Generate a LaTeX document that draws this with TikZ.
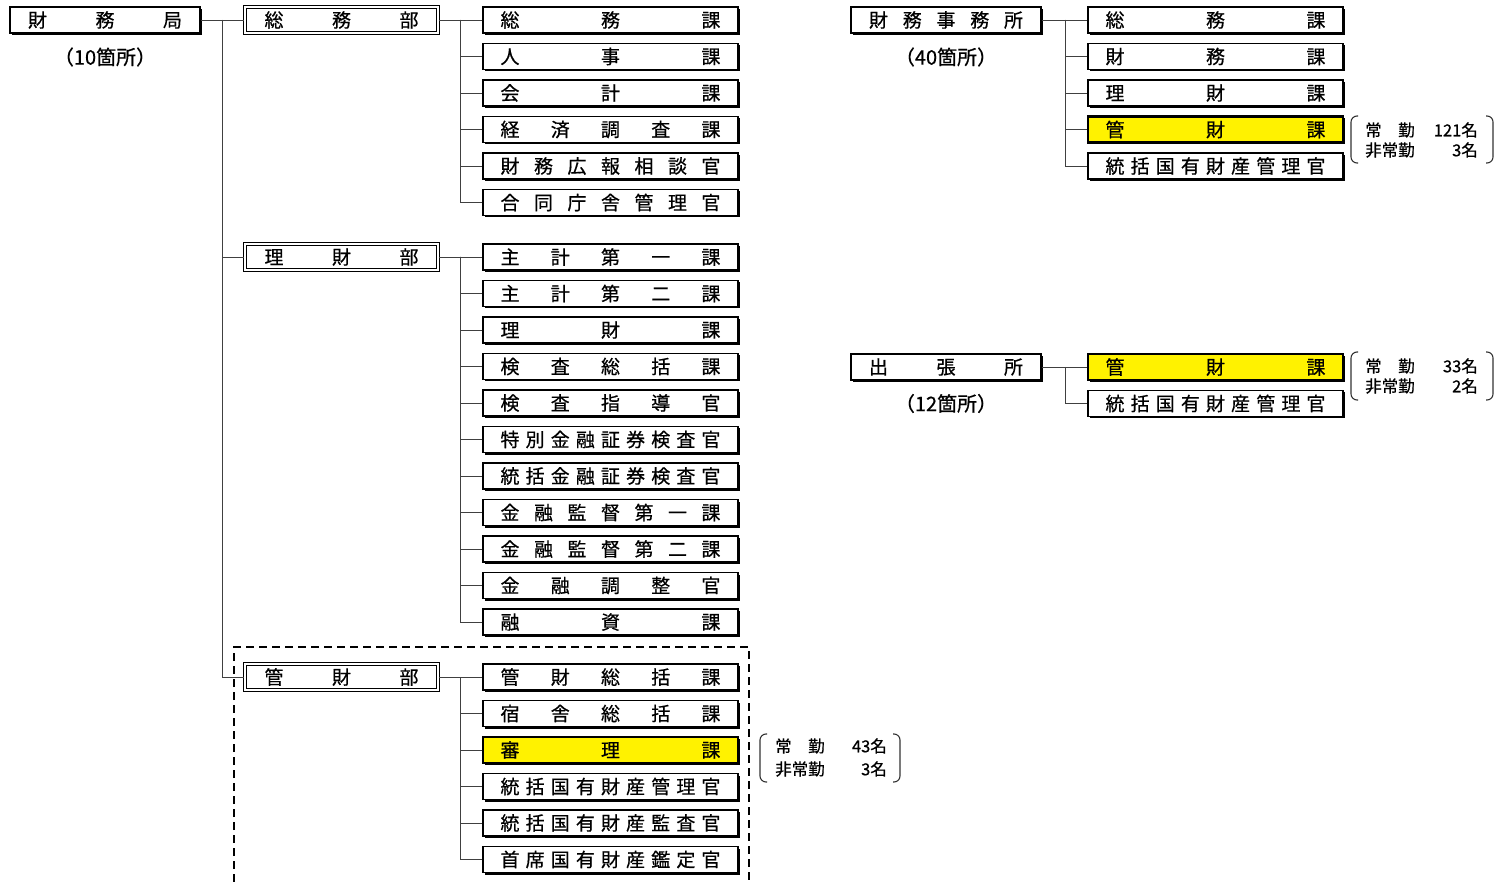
\documentclass[tikz,border=0pt]{standalone}
\usepackage{fontspec}
\setmainfont{Noto Sans CJK JP}[FakeBold=0.6,AutoFakeBold=0.6]
\usetikzlibrary{shadows}
\newcommand\wbox[1]{\makebox[220pt]{#1}}
\newcommand\nbox[1]{\makebox[154pt]{#1}}
\newcommand\twoch[2]{\makebox[3em]{#1\hfill #2}}
\begin{document}
\begin{tikzpicture}[x=1pt,y=-1pt,
  base/.style={draw, fill=white, inner sep=0pt, font=\fontsize{19}{19}\selectfont, minimum height=26pt,
    drop shadow={shadow xshift=2pt, shadow yshift=-2pt, opacity=1, fill=black}},
  kabox/.style={base, line width=1.4pt, minimum width=255pt},
  hlbox/.style={kabox, fill=yellow, line width=2.8pt},
  topbox/.style={base, line width=1.4pt, minimum width=190pt},
  bubox/.style={base, double, line width=1.3pt, double distance=1.4pt, minimum width=193pt},
  conn/.style={line width=0.9pt, black!75},
  note/.style={font=\fontsize{20}{20}\selectfont, inner sep=0pt},
  cnt/.style={font=\fontsize{16.5}{16.5}\selectfont, inner sep=0pt},
  brk/.style={line width=1.1pt, black!80, rounded corners=6pt}
]
\useasboundingbox (0,0) rectangle (1505,882);

% dashed frame
\draw[line width=1.4pt, dash pattern=on 8pt off 5pt] (234,882) -- (234,647) -- (749,647) -- (749,882);

% top-level
\node[topbox] (kyoku) at (105,20) {\nbox{財\hfill 務\hfill 局}};
\node[note] (n10) at (105,57) {（10箇所）};
\node[bubox] (somu) at (341.5,20) {\nbox{総\hfill 務\hfill 部}};
\node[bubox] (rizai) at (341.5,257) {\nbox{理\hfill 財\hfill 部}};
\node[bubox] (kanzai) at (341.5,677) {\nbox{管\hfill 財\hfill 部}};

% 総務部 children
\node[kabox] (s0) at (610.5,20)   {\wbox{総\hfill 務\hfill 課}};
\node[kabox] (s1) at (610.5,56.5) {\wbox{人\hfill 事\hfill 課}};
\node[kabox] (s2) at (610.5,93)   {\wbox{会\hfill 計\hfill 課}};
\node[kabox] (s3) at (610.5,129.5){\wbox{経\hfill 済\hfill 調\hfill 査\hfill 課}};
\node[kabox] (s4) at (610.5,166)  {\wbox{財\hfill 務\hfill 広\hfill 報\hfill 相\hfill 談\hfill 官}};
\node[kabox] (s5) at (610.5,202.5){\wbox{合\hfill 同\hfill 庁\hfill 舎\hfill 管\hfill 理\hfill 官}};

% 理財部 children
\node[kabox] (r0) at (610.5,257)   {\wbox{主\hfill 計\hfill 第\hfill 一\hfill 課}};
\node[kabox] (r1) at (610.5,293.5) {\wbox{主\hfill 計\hfill 第\hfill 二\hfill 課}};
\node[kabox] (r2) at (610.5,330)   {\wbox{理\hfill 財\hfill 課}};
\node[kabox] (r3) at (610.5,366.5) {\wbox{検\hfill 査\hfill 総\hfill 括\hfill 課}};
\node[kabox] (r4) at (610.5,403)   {\wbox{検\hfill 査\hfill 指\hfill 導\hfill 官}};
\node[kabox] (r5) at (610.5,439.5) {\wbox{特\hfill 別\hfill 金\hfill 融\hfill 証\hfill 券\hfill 検\hfill 査\hfill 官}};
\node[kabox] (r6) at (610.5,476)   {\wbox{統\hfill 括\hfill 金\hfill 融\hfill 証\hfill 券\hfill 検\hfill 査\hfill 官}};
\node[kabox] (r7) at (610.5,512.5) {\wbox{金\hfill 融\hfill 監\hfill 督\hfill 第\hfill 一\hfill 課}};
\node[kabox] (r8) at (610.5,549)   {\wbox{金\hfill 融\hfill 監\hfill 督\hfill 第\hfill 二\hfill 課}};
\node[kabox] (r9) at (610.5,585.5) {\wbox{金\hfill 融\hfill 調\hfill 整\hfill 官}};
\node[kabox] (r10) at (610.5,622)  {\wbox{融\hfill 資\hfill 課}};

% 管財部 children
\node[kabox] (k0) at (610.5,677)   {\wbox{管\hfill 財\hfill 総\hfill 括\hfill 課}};
\node[kabox] (k1) at (610.5,713.5) {\wbox{宿\hfill 舎\hfill 総\hfill 括\hfill 課}};
\node[hlbox] (k2) at (610.5,750)   {\wbox{審\hfill 理\hfill 課}};
\node[kabox] (k3) at (610.5,786.5) {\wbox{統\hfill 括\hfill 国\hfill 有\hfill 財\hfill 産\hfill 管\hfill 理\hfill 官}};
\node[kabox] (k4) at (610.5,823)   {\wbox{統\hfill 括\hfill 国\hfill 有\hfill 財\hfill 産\hfill 監\hfill 査\hfill 官}};
\node[kabox] (k5) at (610.5,859.5) {\wbox{首\hfill 席\hfill 国\hfill 有\hfill 財\hfill 産\hfill 鑑\hfill 定\hfill 官}};

% 財務事務所
\node[topbox] (jimusho) at (946,20) {\nbox{財\hfill 務\hfill 事\hfill 務\hfill 所}};
\node[note] (n40) at (946,57) {（40箇所）};
\node[kabox] (j0) at (1215.5,20)   {\wbox{総\hfill 務\hfill 課}};
\node[kabox] (j1) at (1215.5,56.5) {\wbox{財\hfill 務\hfill 課}};
\node[kabox] (j2) at (1215.5,93)   {\wbox{理\hfill 財\hfill 課}};
\node[hlbox] (j3) at (1215.5,129.5){\wbox{管\hfill 財\hfill 課}};
\node[kabox] (j4) at (1215.5,166)  {\wbox{統\hfill 括\hfill 国\hfill 有\hfill 財\hfill 産\hfill 管\hfill 理\hfill 官}};

% 出張所
\node[topbox] (shucho) at (946,367) {\nbox{出\hfill 張\hfill 所}};
\node[note] (n12) at (946,403.5) {（12箇所）};
\node[hlbox] (h0) at (1215.5,367)   {\wbox{管\hfill 財\hfill 課}};
\node[kabox] (h1) at (1215.5,403.5) {\wbox{統\hfill 括\hfill 国\hfill 有\hfill 財\hfill 産\hfill 管\hfill 理\hfill 官}};

% connectors
\coordinate (t0) at (222,20);
\draw[conn] (kyoku.east) -- (somu.west);
\draw[conn] (t0) |- (rizai.west);
\draw[conn] (t0) |- (kanzai.west);

\coordinate (ts) at (460,20);
\draw[conn] (somu.east) -- (s0.west);
\foreach \i in {1,...,5} \draw[conn] (ts) |- (s\i.west);

\coordinate (tr) at (460,257);
\draw[conn] (rizai.east) -- (r0.west);
\foreach \i in {1,...,10} \draw[conn] (tr) |- (r\i.west);

\coordinate (tk) at (460,677);
\draw[conn] (kanzai.east) -- (k0.west);
\foreach \i in {1,...,5} \draw[conn] (tk) |- (k\i.west);

\coordinate (tj) at (1065,20);
\draw[conn] (jimusho.east) -- (j0.west);
\foreach \i in {1,...,4} \draw[conn] (tj) |- (j\i.west);

\coordinate (th) at (1065,367);
\draw[conn] (shucho.east) -- (h0.west);
\draw[conn] (th) |- (h1.west);

% staff counts
\draw[brk] (1358,116) -- (1351,116) -- (1351,163) -- (1358,163);
\draw[brk] (1486,116) -- (1493,116) -- (1493,163) -- (1486,163);
\node[cnt, anchor=west] (c1a) at (1365,130) {\twoch{常}{勤}};
\node[cnt, anchor=east] (c1b) at (1478,130) {121名};
\node[cnt, anchor=west] (c1c) at (1365,150) {非常勤};
\node[cnt, anchor=east] (c1d) at (1478,150) {3名};

\draw[brk] (1358,352) -- (1351,352) -- (1351,400) -- (1358,400);
\draw[brk] (1486,352) -- (1493,352) -- (1493,400) -- (1486,400);
\node[cnt, anchor=west] (c2a) at (1365,366) {\twoch{常}{勤}};
\node[cnt, anchor=east] (c2b) at (1478,366) {33名};
\node[cnt, anchor=west] (c2c) at (1365,386) {非常勤};
\node[cnt, anchor=east] (c2d) at (1478,386) {2名};

\draw[brk] (767,734) -- (760,734) -- (760,782) -- (767,782);
\draw[brk] (893,734) -- (900,734) -- (900,782) -- (893,782);
\node[cnt, anchor=west] (c3a) at (775,746) {\twoch{常}{勤}};
\node[cnt, anchor=east] (c3b) at (887,746) {43名};
\node[cnt, anchor=west] (c3c) at (775,769) {非常勤};
\node[cnt, anchor=east] (c3d) at (887,769) {3名};
\end{tikzpicture}
\end{document}
